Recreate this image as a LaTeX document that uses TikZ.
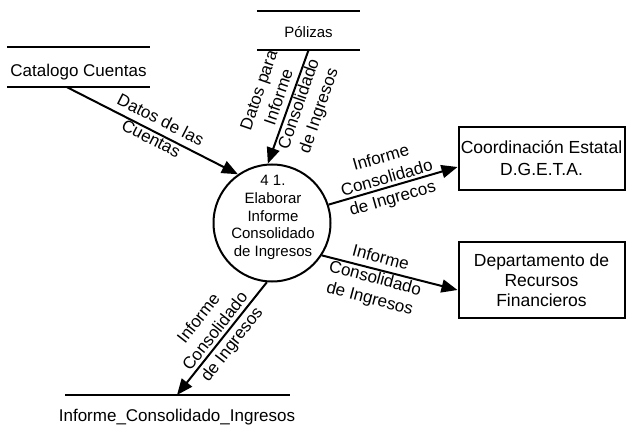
\documentclass[tikz,border=0pt]{standalone}
\usepackage{fontspec}
\setmainfont{Liberation Sans}
\usetikzlibrary{arrows.meta,calc}
\begin{document}
\begin{tikzpicture}[x=1pt,y=-1pt,
  stxt/.style={font=\fontsize{17}{21}\selectfont, inner sep=0pt, align=center},
  lbl/.style={font=\fontsize{17}{21}\selectfont, inner sep=0pt, align=center},
  ent/.style={draw, line width=2pt, font=\fontsize{17.5}{22}\selectfont, inner sep=0pt, align=center, minimum width=166pt},
  proc/.style={draw, circle, line width=2pt, minimum size=117pt, inner sep=0pt},
  ptxt/.style={font=\fontsize{15}{17.8}\selectfont, inner sep=0pt, align=center},
  flow/.style={line width=2pt, -{Triangle[length=16pt,width=13pt]}},
  sline/.style={line width=2pt}
]
\useasboundingbox (0,0) rectangle (626,430);

% data stores
\node[stxt, minimum width=143pt, minimum height=40pt, text height=20pt, text depth=0pt] (cat) at (78.5,67) {Catalogo Cuentas};
\draw[sline] (cat.north west) -- (cat.north east);
\draw[sline] (cat.south west) -- (cat.south east);

\node[stxt, font=\fontsize{15}{18}\selectfont, minimum width=103pt, minimum height=39pt, text height=13.6pt, text depth=0pt] (pol) at (308.5,30.5) {Pólizas};
\draw[sline] (pol.north west) -- (pol.north east);
\draw[sline] (pol.south west) -- (pol.south east);

\node[stxt] (ics) at (177,417) {Informe\_Consolidado\_Ingresos};
\coordinate (icsL) at (65,395);
\coordinate (icsR) at (290,395);
\draw[sline] (icsL) -- (icsR);

% process
\node[proc] (proc) at (272,223) {};
\node[ptxt] (proctext) at (273,217.5) {4 1.\\Elaborar\\Informe\\Consolidado\\de Ingresos};

% entities
\node[ent, minimum height=63pt] (coord) at (541.5,158.5) {Coordinación Estatal\\D.G.E.T.A.};
\node[ent, minimum height=75pt, font=\fontsize{17.5}{20}\selectfont] (dept) at (541.5,280) {Departamento de\\Recursos\\Financieros};

% flows
\coordinate (catout) at ($(cat.south)+(-11.5,0)$);
\draw[flow] (catout) -- (proc.125);
\draw[flow] (pol.south) -- (proc.94);
\draw[flow] (proc.18) -- ($(coord.west)+(0,8.5)$);
\draw[flow] (proc.-33) -- ($(dept.west)+(0,10)$);
\draw[flow] (proc.265) -- (icsL -| ics);

% flow labels
\node[lbl, rotate=-27] (l1) at (156,129) {Datos de las\\Cuentas};
\node[lbl, rotate=71] (l2) at (290,101) {Datos para\\Informe\\Consolidado\\de Ingresos};
\node[lbl, rotate=16] (l3) at (387,179) {Informe\\Consolidado\\de Ingrecos};
\node[lbl, rotate=-15] (l4) at (375,279) {Informe\\Consolidado\\de Ingresos};
\node[lbl, rotate=52] (l5) at (216,332) {Informe\\Consolidado\\de Ingresos};
\end{tikzpicture}
\end{document}
